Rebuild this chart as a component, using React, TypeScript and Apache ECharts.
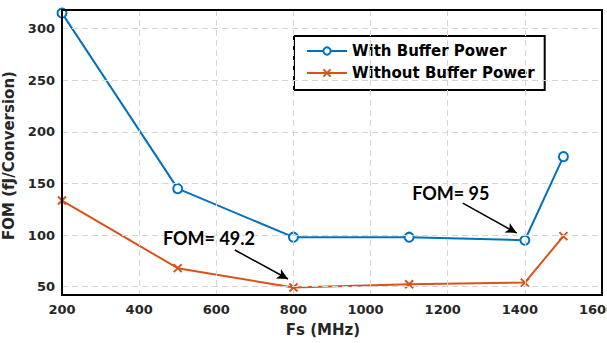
import React, { useEffect, useRef } from "react";
import * as echarts from "echarts";

const fsMHz = [200, 500, 800, 1100, 1400, 1500];
const withBuffer = [315, 145, 98, 98, 95, 176];
const withoutBuffer = [133.5, 68, 49.2, 52.4, 54, 99];
const xTicks = [200, 400, 600, 800, 1000, 1200, 1400, 1600];
const yTicks = [50, 100, 150, 200, 250, 300];
const seriesNames = ["With Buffer Power", "Without Buffer Power"];
const notes = [
  { text: "FOM= 95", at: [1208, 141], arrowFrom: [1239, 131], arrowTo: [1379, 102] },
  { text: "FOM= 49.2", at: [581, 97], arrowFrom: [648, 85.6], arrowTo: [786, 57.5] },
];

const BLUE = "#0072BD";
const ORANGE = "#D95319";
const LABEL = "#262626";
const FONT = "DejaVu Sans";

export default function App() {
  const ref = useRef<HTMLDivElement>(null);
  useEffect(() => {
    if (!ref.current) return;
    const chart = echarts.init(ref.current, undefined, { renderer: "svg" });
    const xSym = "path://M0,0L10,10M0,10L10,0";
    const gridLine = { show: true, lineStyle: { color: "#d6d6d6", type: [6, 4] as any, width: 1 } };
    const tickFont = { fontFamily: FONT, fontWeight: "bold" as const, fontSize: 13, color: LABEL };
    chart.setOption({
      animation: false,
      backgroundColor: "#ffffff",
      grid: { left: 62, right: 5, top: 10, bottom: 48, outerBoundsMode: "none", containLabel: false },
      legend: {
        left: 294,
        top: 36,
        orient: "vertical",
        data: seriesNames,
        backgroundColor: "#fff",
        borderColor: "#000",
        borderWidth: 2,
        padding: [6, 10, 8, 12],
        itemGap: 4,
        itemWidth: 40,
        itemHeight: 9,
        textStyle: { fontFamily: FONT, fontWeight: "bold", fontSize: 15, color: "#000", lineHeight: 18 },
      },
      xAxis: [
        {
          type: "value",
          min: 200,
          max: 1600,
          interval: 200,
          name: "Fs (MHz)",
          nameLocation: "middle",
          nameGap: 27,
          nameTextStyle: { fontFamily: FONT, fontWeight: "bold", fontSize: 15, color: LABEL, padding: [0, 18, 0, 0] },
          axisLine: { lineStyle: { color: "#000", width: 2 } },
          axisTick: { show: false },
          axisLabel: {
            margin: 8,
            ...tickFont,
            customValues: xTicks,
            formatter: (v: number) => (v >= 1000 ? `{w|${v}}` : `{n|${v}}`),
            rich: {
              w: { ...tickFont, padding: [0, 10, 0, 0] },
              n: { ...tickFont },
            },
          },
          splitLine: gridLine,
          z: 5,
        },
        {
          type: "value",
          position: "top",
          min: 200,
          max: 1600,
          interval: 200,
          axisLine: { show: true, lineStyle: { color: "#000", width: 2 } },
          axisTick: { show: false },
          axisLabel: { show: false },
          splitLine: { show: false },
          z: 5,
        },
      ],
      yAxis: [
        {
          type: "value",
          min: 42,
          max: 318,
          name: "FOM (fJ/Conversion)",
          nameLocation: "middle",
          nameGap: 35,
          nameTextStyle: { fontFamily: FONT, fontWeight: "bold", fontSize: 15, color: LABEL, padding: [0, 0, 0, -6] },
          axisLine: { show: true, lineStyle: { color: "#000", width: 2 } },
          axisTick: { show: false, customValues: yTicks },
          axisLabel: {
            margin: 7,
            ...tickFont,
            customValues: yTicks,
          },
          splitLine: gridLine,
          z: 5,
        },
        {
          type: "value",
          position: "right",
          min: 42,
          max: 318,
          axisLine: { show: true, lineStyle: { color: "#000", width: 2 } },
          axisTick: { show: false },
          axisLabel: { show: false },
          splitLine: { show: false },
          z: 5,
        },
      ],
      series: [
        {
          name: seriesNames[0],
          type: "line",
          data: fsMHz.map((x, i) => [x, withBuffer[i]]),
          symbol: "emptyCircle",
          symbolSize: 9,
          showAllSymbol: true,
          clip: false,
          lineStyle: { color: BLUE, width: 2 },
          itemStyle: { color: BLUE, borderColor: BLUE, borderWidth: 2 },
          z: 3,
          markLine: {
            silent: true,
            symbol: ["none", "arrow"],
            symbolSize: [8, 11],
            label: { show: false },
            lineStyle: { color: "#000", width: 1.5, type: "solid" },
            data: notes.map((n) => [{ coord: n.arrowFrom }, { coord: n.arrowTo }]),
          },
          markPoint: {
            silent: true,
            symbol: "circle",
            symbolSize: 1,
            itemStyle: { color: "transparent" },
            label: {
              show: true,
              position: "inside",
              fontFamily: "Lato",
              fontWeight: "bold",
              fontSize: 18,
              color: "#000",
              formatter: (p: any) => p.name,
            },
            data: notes.map((n) => ({ name: n.text, coord: n.at })),
          },
        },
        {
          name: seriesNames[1],
          type: "line",
          data: fsMHz.map((x, i) => [x, withoutBuffer[i]]),
          symbol: xSym,
          symbolSize: 8,
          showAllSymbol: true,
          clip: false,
          lineStyle: { color: ORANGE, width: 2 },
          itemStyle: { color: ORANGE, borderColor: ORANGE, borderWidth: 2 },
          z: 3,
        },
      ],
    });
    return () => chart.dispose();
  }, []);
  return (
    <div
      ref={ref}
      style={{ position: "fixed", left: 0, top: 0, width: 607, height: 343, background: "#fff" }}
    />
  );
}
